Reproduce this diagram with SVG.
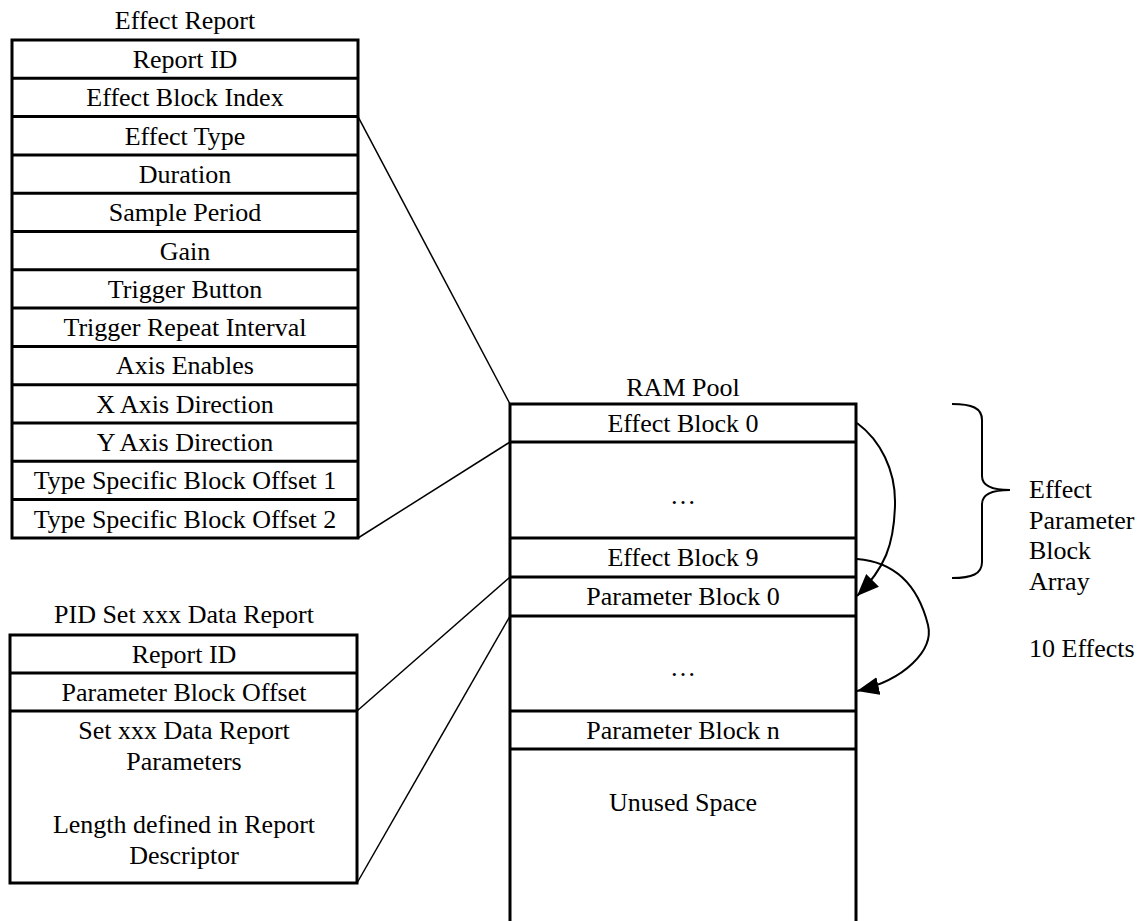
<svg xmlns="http://www.w3.org/2000/svg" width="1144" height="921" viewBox="0 0 1144 921">
<style>
  text { font-family: "Liberation Serif", "Times New Roman", serif; font-size: 26px; fill: #000; }
  .c { text-anchor: middle; }
  .box { fill: #fff; stroke: #000; stroke-width: 3; }
  .sep { stroke: #000; stroke-width: 3; fill: none; }
  .link { stroke: #000; stroke-width: 1.5; fill: none; }
  .arc { stroke: #000; stroke-width: 2; fill: none; marker-end: url(#ah); }
  .brace { stroke: #000; stroke-width: 2; fill: none; }
</style>
<defs>
  <marker id="ah" markerUnits="userSpaceOnUse" markerWidth="24" markerHeight="20" refX="22" refY="9" orient="auto">
    <path d="M0,0 L22,9 L0,18 z" fill="#000"/>
  </marker>
</defs>
<rect width="1144" height="921" fill="#fff"/>

<g id="effect-report">
  <text class="c" x="185" y="29">Effect Report</text>
  <rect class="box" x="12" y="40" width="346" height="498"/>
  <path class="sep" d="M12,78.3H358 M12,116.6H358 M12,154.9H358 M12,193.2H358 M12,231.5H358 M12,269.8H358 M12,308.1H358 M12,346.4H358 M12,384.7H358 M12,423H358 M12,461.3H358 M12,499.6H358"/>
  <text class="c" x="185" y="68">Report ID</text>
  <text class="c" x="185" y="106.3">Effect Block Index</text>
  <text class="c" x="185" y="144.6">Effect Type</text>
  <text class="c" x="185" y="182.9">Duration</text>
  <text class="c" x="185" y="221.2">Sample Period</text>
  <text class="c" x="185" y="259.5">Gain</text>
  <text class="c" x="185" y="297.8">Trigger Button</text>
  <text class="c" x="185" y="336.1">Trigger Repeat Interval</text>
  <text class="c" x="185" y="374.4">Axis Enables</text>
  <text class="c" x="185" y="412.7">X Axis Direction</text>
  <text class="c" x="185" y="451">Y Axis Direction</text>
  <text class="c" x="185" y="489.3">Type Specific Block Offset 1</text>
  <text class="c" x="185" y="527.6">Type Specific Block Offset 2</text>
</g>

<g id="pid-set-report">
  <text class="c" x="184" y="623">PID Set xxx Data Report</text>
  <rect class="box" x="10" y="635" width="347" height="248"/>
  <path class="sep" d="M10,673H357 M10,711H357"/>
  <text class="c" x="184" y="663">Report ID</text>
  <text class="c" x="184" y="701">Parameter Block Offset</text>
  <text class="c" x="184" y="739">Set xxx Data Report</text>
  <text class="c" x="184" y="770">Parameters</text>
  <text class="c" x="184" y="833">Length defined in Report</text>
  <text class="c" x="184" y="864">Descriptor</text>
</g>

<g id="ram-pool">
  <text class="c" x="683" y="396">RAM Pool</text>
  <path class="sep" d="M510,923V404H856V923"/>
  <path class="sep" d="M510,442H856 M510,538H856 M510,577H856 M510,616H856 M510,711H856 M510,749H856"/>
  <text class="c" x="683" y="432">Effect Block 0</text>
  <text class="c" x="683" y="504">…</text>
  <text class="c" x="683" y="566">Effect Block 9</text>
  <text class="c" x="683" y="605">Parameter Block 0</text>
  <text class="c" x="683" y="676">…</text>
  <text class="c" x="683" y="739">Parameter Block n</text>
  <text class="c" x="683" y="811">Unused Space</text>
</g>

<g id="effect-array-label">
  <path class="brace" d="M952,404 C972,404 982,408 982,420 L982,476 C982,486 994,490 1010,490 C994,490 982,494 982,504 L982,562 C982,574 972,578 952,578"/>
  <text x="1029" y="498">Effect</text>
  <text x="1029" y="528.5">Parameter</text>
  <text x="1029" y="559">Block</text>
  <text x="1029" y="589.5">Array</text>
  <text x="1029" y="657">10 Effects</text>
</g>

<g id="connectors">
  <line class="link" x1="358" y1="116.6" x2="510" y2="404"/>
  <line class="link" x1="358" y1="538" x2="510" y2="442"/>
  <line class="link" x1="357" y1="711" x2="510" y2="577"/>
  <line class="link" x1="357" y1="883" x2="510" y2="616"/>
  <path class="arc" d="M857,423 C880,440 896,470 895,505 C894,545 885,568 857,596"/>
  <path class="arc" d="M857,559 C895,562 918,585 928,625 C934,650 905,680 857,691"/>
</g>
</svg>
